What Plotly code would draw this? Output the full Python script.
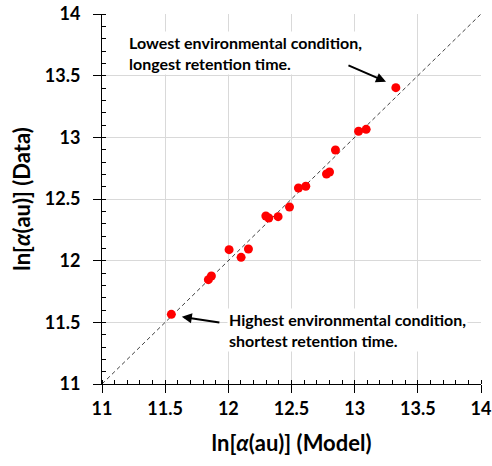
import plotly.graph_objects as go

model = [11.549, 11.842, 11.866, 12.006, 12.101, 12.159, 12.297, 12.320, 12.394,
         12.484, 12.555, 12.613, 12.777, 12.801, 12.848, 13.031, 13.091, 13.326]
data = [11.565, 11.846, 11.876, 12.089, 12.027, 12.095, 12.362, 12.346, 12.357,
        12.435, 12.589, 12.603, 12.703, 12.719, 12.897, 13.049, 13.065, 13.403]
identity = [11, 14]
tick_vals = [11, 11.5, 12, 12.5, 13, 13.5, 14]
tick_text = ["11", "11.5", "12", "12.5", "13", "13.5", "14"]

FONT = "Lato"

fig = go.Figure()
fig.add_trace(go.Scatter(x=identity, y=identity, mode="lines",
                         line=dict(color="#404040", width=1, dash="4px,3px"),
                         hoverinfo="skip", showlegend=False))
fig.add_trace(go.Scatter(x=model, y=data, mode="markers",
                         marker=dict(color="#ff0000", size=9),
                         showlegend=False))

axis_common = dict(
    range=[11, 14], tickvals=tick_vals, ticktext=tick_text,
    showgrid=True, gridcolor="#d9d9d9", gridwidth=1,
    showline=True, linecolor="black", linewidth=1,
    ticks="outside", ticklen=8, tickcolor="black", tickwidth=1,
    minor=dict(dtick=0.1, ticks="inside", ticklen=4, tickcolor="black", showgrid=False),
    tickfont=dict(family=FONT, size=18, color="black", weight="bold"),
    zeroline=False, fixedrange=True, automargin=False,
)

fig.update_xaxes(**axis_common,
                 title=dict(text="ln[<i>α</i>(au)] (Model)",
                            font=dict(family=FONT, size=22, color="black", weight="bold"),
                            standoff=18))
fig.update_yaxes(**axis_common, ticklabelstandoff=9,
                 title=dict(text="ln[<i>α</i>(au)] (Data)",
                            font=dict(family=FONT, size=22, color="black", weight="bold"),
                            standoff=8))

ann_font = dict(family=FONT, size=16, color="black", weight="bold")
fig.update_layout(
    width=492, height=466,
    margin=dict(l=102, r=11, t=14, b=82),
    plot_bgcolor="white", paper_bgcolor="white",
    annotations=[
        dict(x=11.2, y=13.68, xref="x", yref="y", xanchor="left", yanchor="middle",
             text="Lowest environmental condition,<br>longest retention time.",
             showarrow=False, align="left", font=ann_font, bgcolor="white"),
        dict(x=11.99, y=11.435, xref="x", yref="y", xanchor="left", yanchor="middle",
             text="Highest environmental condition,<br>shortest retention time.",
             showarrow=False, align="left", font=ann_font, bgcolor="white"),
        dict(x=13.248, y=13.451, ax=12.939, ay=13.589, xref="x", yref="y",
             axref="x", ayref="y", text="", showarrow=True, arrowhead=2,
             arrowsize=1, arrowwidth=2, arrowcolor="black"),
        dict(x=11.632, y=11.545, ax=11.941, ay=11.496, xref="x", yref="y",
             axref="x", ayref="y", text="", showarrow=True, arrowhead=2,
             arrowsize=1, arrowwidth=2, arrowcolor="black"),
    ],
)

fig.write_html("out.html")
